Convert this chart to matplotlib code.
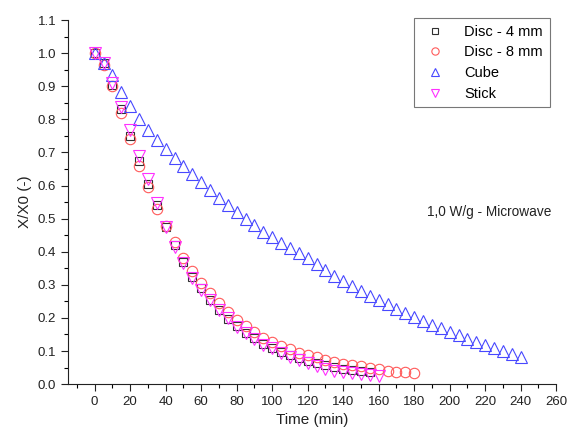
import numpy as np
import matplotlib
matplotlib.use('Agg')
import matplotlib.pyplot as plt
from matplotlib.ticker import MultipleLocator, FormatStrFormatter

plt.rcParams['font.family'] = ['Liberation Sans', 'DejaVu Sans']

# data (time in min, X/X0)
t_disc4 = np.arange(0, 160, 5)
disc4 = [1.0, 0.97, 0.905, 0.83, 0.75, 0.675, 0.605, 0.54, 0.475, 0.42,
         0.37, 0.325, 0.29, 0.255, 0.225, 0.198, 0.175, 0.155, 0.138, 0.122,
         0.108, 0.097, 0.087, 0.078, 0.07, 0.063, 0.057, 0.052, 0.047, 0.043,
         0.04, 0.037]

t_disc8 = np.arange(0, 185, 5)
disc8 = [1.0, 0.965, 0.9, 0.82, 0.74, 0.66, 0.595, 0.53, 0.478, 0.43,
         0.38, 0.342, 0.305, 0.275, 0.245, 0.218, 0.193, 0.175, 0.157, 0.139,
         0.127, 0.115, 0.106, 0.094, 0.088, 0.082, 0.074, 0.066, 0.062, 0.057,
         0.054, 0.05, 0.046, 0.041, 0.038, 0.036, 0.034]

t_cube = np.arange(0, 245, 5)
cube = [1.0, 0.97, 0.934, 0.882, 0.84, 0.80, 0.767, 0.737, 0.71, 0.683,
        0.658, 0.635, 0.61, 0.586, 0.562, 0.54, 0.52, 0.498, 0.48, 0.46,
        0.444, 0.426, 0.41, 0.396, 0.381, 0.364, 0.344, 0.326, 0.311, 0.296,
        0.281, 0.266, 0.254, 0.242, 0.227, 0.214, 0.202, 0.19, 0.18, 0.17,
        0.157, 0.148, 0.136, 0.127, 0.118, 0.108, 0.10, 0.09, 0.082]

t_stick = np.arange(0, 165, 5)
stick = [1.0, 0.97, 0.91, 0.837, 0.767, 0.69, 0.62, 0.547, 0.475, 0.414,
         0.365, 0.322, 0.284, 0.254, 0.224, 0.2, 0.172, 0.154, 0.136, 0.118,
         0.109, 0.094, 0.082, 0.073, 0.063, 0.054, 0.047, 0.04, 0.036, 0.033,
         0.031, 0.028, 0.024]

fig = plt.figure(figsize=(5.67, 4.37), dpi=100)
ax = fig.add_axes([0.12, 0.121, 0.861, 0.833])

ax.plot(t_disc4, disc4, ls='none', marker='s', ms=5.5, mfc='none', mec='#303030', mew=0.8, label='Disc - 4 mm')
ax.plot(t_disc8, disc8, ls='none', marker='o', ms=7.5, mfc='none', mec='#ff5a5a', mew=0.8, label='Disc - 8 mm')
ax.plot(t_cube, cube, ls='none', marker='^', ms=9, mfc='none', mec='#4848ff', mew=0.8, label='Cube')
ax.plot(t_stick, stick, ls='none', marker='v', ms=9, mfc='none', mec='#ff30ff', mew=0.8, label='Stick')

ax.set_xlim(-15, 260)
ax.set_ylim(0, 1.1)
ax.xaxis.set_major_locator(MultipleLocator(20))
ax.xaxis.set_minor_locator(MultipleLocator(10))
ax.yaxis.set_major_locator(MultipleLocator(0.1))
ax.yaxis.set_minor_locator(MultipleLocator(0.05))
ax.yaxis.set_major_formatter(FormatStrFormatter('%.1f'))
ax.tick_params(which='major', direction='out', length=5, width=0.8, labelsize=9.5, colors='#222222')
ax.tick_params(which='minor', direction='out', length=3, width=0.8)

for s in ['top', 'right']:
    ax.spines[s].set_visible(False)
for s in ['left', 'bottom']:
    ax.spines[s].set_color('#222222')

ax.set_xlabel('Time (min)', fontsize=11, color='#222222')
ax.set_ylabel('X/X0 (-)', fontsize=11, color='#222222')

ax.text(257, 0.52, '1,0 W/g - Microwave', fontsize=9.8, ha='right', va='center', color='#222222')

leg = fig.legend(loc='upper right', bbox_to_anchor=(0.977, 0.968), fontsize=10.5,
                 frameon=True, fancybox=False, edgecolor='#555555', markerscale=0.7,
                 handletextpad=1.1, borderpad=0.45, labelspacing=0.45, handlelength=1.9,
                 borderaxespad=0.3)
leg.get_frame().set_linewidth(0.8)

fig.savefig('out.png', dpi=100)
